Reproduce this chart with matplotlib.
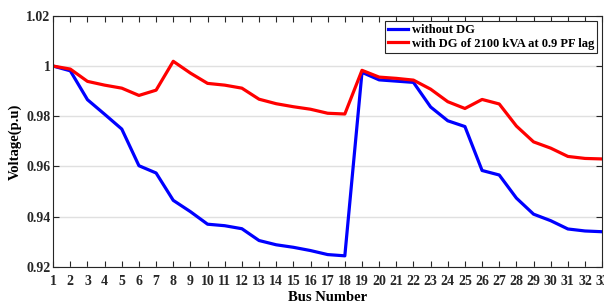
import numpy as np
from matplotlib import pyplot as plt

# bus voltage profile, IEEE 33-bus feeder
buses = list(range(1, 34))
v_without_dg = [1.0, 0.9981, 0.9866, 0.9808, 0.9749, 0.9603, 0.9574, 0.9465, 0.9420,
                0.9370, 0.9364, 0.9352, 0.9305, 0.9288, 0.9278, 0.9265, 0.9249, 0.9244,
                0.9975, 0.9945, 0.9940, 0.9935, 0.9837, 0.9782, 0.9759, 0.9584, 0.9566,
                0.9474, 0.9410, 0.9384, 0.9351, 0.9343, 0.9340]
v_with_dg = [1.0, 0.9988, 0.9939, 0.9924, 0.9912, 0.9883, 0.9904, 1.0019, 0.9972,
             0.9931, 0.9924, 0.9912, 0.9868, 0.9850, 0.9838, 0.9828, 0.9812, 0.9809,
             0.9983, 0.9956, 0.9951, 0.9944, 0.9908, 0.9858, 0.9831, 0.9867, 0.9849,
             0.9761, 0.9698, 0.9673, 0.9640, 0.9632, 0.9630]
y_ticks = [0.92, 0.94, 0.96, 0.98, 1.0, 1.02]

plt.rcParams['font.family'] = ['Liberation Serif', 'DejaVu Serif']
plt.rcParams['font.weight'] = 'bold'

fig = plt.figure(figsize=(6.04, 3.05), dpi=100)
ax = fig.add_axes([0.088, 0.125, 0.909, 0.823])

ax.plot(buses, v_without_dg, color='#0000ff', lw=2.3, label='without DG')
ax.plot(buses, v_with_dg, color='#ff0000', lw=2.3, label='with DG of 2100 kVA at 0.9 PF lag')

ax.set_xlim(1, 33)
ax.set_ylim(0.92, 1.02)
ax.set_xticks(buses)
ax.set_yticks(y_ticks)
ax.set_yticklabels(['%g' % t for t in y_ticks])
ax.yaxis.grid(True, color='#e0e0e0', lw=1)
ax.set_axisbelow(True)

ax.tick_params(direction='in', top=True, right=True, length=4, width=0.8,
               colors='#262626', labelsize=10)
ax.tick_params(axis='x', pad=5.5)
ax.tick_params(axis='y', pad=2)
for lab in ax.get_xticklabels() + ax.get_yticklabels():
    lab.set_fontweight('bold')
for s in ax.spines.values():
    s.set_color('#262626')
    s.set_linewidth(0.8)

ax.set_xlabel('Bus Number', fontsize=10.5, fontweight='bold', labelpad=2.5)
ax.set_ylabel('Voltage(p.u)', fontsize=10.5, fontweight='bold', labelpad=3)

leg = ax.legend(loc='upper right', fontsize=9, fancybox=False, framealpha=1,
                edgecolor='#262626', handlelength=1.6, handletextpad=0.3,
                borderpad=0.25, labelspacing=0.15, borderaxespad=0.4)
leg.get_frame().set_linewidth(0.8)
for t in leg.get_texts():
    t.set_fontweight('bold')

fig.savefig('out.png', dpi=100)
